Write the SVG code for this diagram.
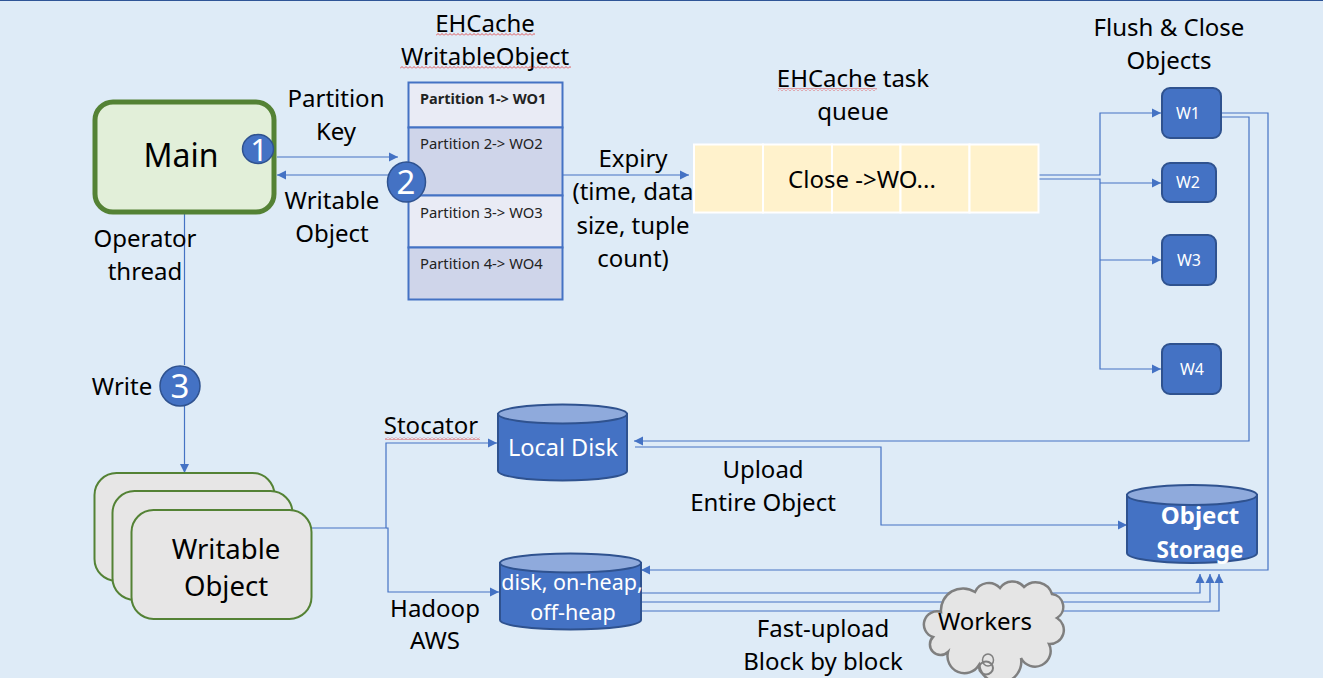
<svg xmlns="http://www.w3.org/2000/svg" width="1323" height="678" viewBox="0 0 1323 678">
<style>
text{font-family:"Noto Sans","Open Sans","Liberation Sans",sans-serif;font-size:24px;fill:#000;text-anchor:middle}
.w{fill:#fff}
.p{font-size:14.8px;text-anchor:start;fill:#222}
.c{fill:none;stroke:#4472c4;stroke-width:1.2}
.blue{fill:#4472c4;stroke:#2f528f;stroke-width:2}
.top{fill:#8faadc;stroke:#2f528f;stroke-width:2}
.num{fill:#4472c4;stroke:#2f528f;stroke-width:1.5}
.stack{fill:#e7e6e6;stroke:#548235;stroke-width:2}
.cell{stroke:#4472c4;stroke-width:2}
.q{fill:#fff2cc;stroke:#fff;stroke-width:2}
</style>
<defs>
<marker id="a" markerUnits="userSpaceOnUse" markerWidth="10" markerHeight="10" refX="9" refY="5" orient="auto"><path d="M0 0.5L9 5L0 9.5Z" fill="#4472c4"/></marker>
<pattern id="sq" width="4" height="3" patternUnits="userSpaceOnUse"><path d="M0 2.5L2 .5L4 2.5" fill="none" stroke="#e03030" stroke-width=".8"/></pattern>
</defs>
<rect width="1323" height="678" fill="#deebf7"/>
<rect width="1323" height="1" fill="#2f5597"/>
<g id="connectors">
<path class="c" d="M277 157H398" marker-end="url(#a)"/>
<path class="c" d="M390 175H277" marker-end="url(#a)"/>
<path class="c" d="M563 175H689" marker-end="url(#a)"/>
<path class="c" d="M184.500 213V365M184.500 405V473" marker-end="url(#a)"/>
<path class="c" d="M1039 175H1100V113H1161" marker-end="url(#a)"/>
<path class="c" d="M1039 179H1100V369H1161" marker-end="url(#a)"/>
<path class="c" d="M1100 183H1161" marker-end="url(#a)"/>
<path class="c" d="M1100 260H1161" marker-end="url(#a)"/>
<path class="c" d="M1221 113H1268V570H641" marker-end="url(#a)"/>
<path class="c" d="M1221 117H1249V441H634" marker-end="url(#a)"/>
<path class="c" d="M635 447H881V525H1127" marker-end="url(#a)"/>
<path class="c" d="M311 528H386V443H497" marker-end="url(#a)"/>
<path class="c" d="M386 528H388V592H499" marker-end="url(#a)"/>
<path class="c" d="M641 593H1200V574" marker-end="url(#a)"/>
<path class="c" d="M641 602H1210V574" marker-end="url(#a)"/>
<path class="c" d="M641 611H1219V574" marker-end="url(#a)"/>
</g>
<g id="main">
<rect x="95" y="102" width="179" height="110" rx="18" fill="#e2efd9" stroke="#548235" stroke-width="5"/>
<text x="181" y="167" style="font-size:32px">Main</text>
<ellipse class="num" cx="258" cy="149" rx="15.500" ry="14.500"/>
<text class="w" x="259" y="161" style="font-size:31px">1</text>
<text x="145" y="247">Operator</text>
<text x="145" y="280">thread</text>
</g>
<g id="label-partition-key">
<text x="336" y="107">Partition</text>
<text x="336" y="140">Key</text>
</g>
<g id="label-writable-object">
<text x="332" y="209">Writable</text>
<text x="332" y="242">Object</text>
</g>
<g id="ehcache-writable-object">
<text x="485" y="32">EHCache</text>
<text x="485" y="65">WritableObject</text>
<rect x="436" y="33" width="99" height="3" fill="url(#sq)"/>
<rect x="400" y="66" width="171" height="3" fill="url(#sq)"/>
<rect class="cell" x="408.500" y="82.500" width="154" height="45" fill="#e9ebf5"/>
<rect class="cell" x="408.500" y="127.500" width="154" height="68" fill="#cfd5ea"/>
<rect class="cell" x="408.500" y="195.500" width="154" height="52" fill="#e9ebf5"/>
<rect class="cell" x="408.500" y="247.500" width="154" height="52" fill="#cfd5ea"/>
<text class="p" x="420" y="104" style="font-weight:700;font-size:14.5px">Partition 1-&gt; WO1</text>
<text class="p" x="420" y="149">Partition 2-&gt; WO2</text>
<text class="p" x="420" y="218">Partition 3-&gt; WO3</text>
<text class="p" x="420" y="269">Partition 4-&gt; WO4</text>
<ellipse class="num" cx="406.500" cy="182" rx="19" ry="20"/>
<text class="w" x="406" y="194" style="font-size:33px">2</text>
</g>
<g id="label-expiry">
<text x="633" y="167">Expiry</text>
<text x="633" y="200">(time, data</text>
<text x="633" y="234">size, tuple</text>
<text x="633" y="267">count)</text>
</g>
<g id="task-queue">
<text x="853" y="87">EHCache task</text>
<text x="853" y="120">queue</text>
<rect x="778" y="88" width="99" height="3" fill="url(#sq)"/>
<rect class="q" x="694" y="144.500" width="69" height="68"/>
<rect class="q" x="763" y="144.500" width="69" height="68"/>
<rect class="q" x="832" y="144.500" width="68.500" height="68"/>
<rect class="q" x="900.500" y="144.500" width="69" height="68"/>
<rect class="q" x="969.500" y="144.500" width="69" height="68"/>
<text x="862" y="188">Close -&gt;WO...</text>
</g>
<g id="label-flush">
<text x="1169" y="36">Flush &amp; Close</text>
<text x="1169" y="69">Objects</text>
</g>
<g id="w1"><rect class="blue" x="1162" y="88" width="59" height="50" rx="8"/><text class="w" x="1188" y="119" style="font-size:16px">W1</text></g>
<g id="w2"><rect class="blue" x="1162" y="163" width="54" height="39" rx="8"/><text class="w" x="1188" y="188" style="font-size:16px">W2</text></g>
<g id="w3"><rect class="blue" x="1162" y="235" width="54" height="50" rx="8"/><text class="w" x="1189" y="266" style="font-size:16px">W3</text></g>
<g id="w4"><rect class="blue" x="1162" y="344" width="59" height="50" rx="8"/><text class="w" x="1192" y="375" style="font-size:16px">W4</text></g>
<g id="write">
<text x="122" y="395">Write</text>
<circle class="num" cx="180" cy="386" r="20"/>
<text class="w" x="180" y="398" style="font-size:33px">3</text>
</g>
<g id="writable-object">
<rect class="stack" x="94.500" y="473" width="180" height="108" rx="22"/>
<rect class="stack" x="112.500" y="491" width="180" height="109" rx="22"/>
<rect class="stack" x="131.500" y="510" width="180" height="109" rx="22"/>
<text x="226" y="559" style="font-size:27.500px">Writable</text>
<text x="226" y="596" style="font-size:27.500px">Object</text>
</g>
<g id="local-disk">
<text x="431" y="434">Stocator</text>
<rect x="385" y="437" width="95" height="3" fill="url(#sq)"/>
<path class="blue" d="M498 414V471A64.500 9.500 0 0 0 627 471V414Z"/>
<ellipse class="top" cx="562.500" cy="414" rx="64.500" ry="9.500"/>
<text class="w" x="563" y="456" style="font-size:23.500px">Local Disk</text>
</g>
<g id="buffer">
<path class="blue" d="M500 563V620A70.500 9.500 0 0 0 641 620V563Z"/>
<ellipse class="top" cx="570.500" cy="563" rx="70.500" ry="9.500"/>
<text class="w" x="572" y="590" style="font-size:21.500px">disk, on-heap,</text>
<text class="w" x="573" y="620" style="font-size:21.500px">off-heap</text>
<text x="435" y="617">Hadoop</text>
<text x="435" y="649">AWS</text>
</g>
<g id="label-upload">
<text x="763" y="478">Upload</text>
<text x="763" y="511">Entire Object</text>
</g>
<g id="object-storage">
<path class="blue" d="M1127 495V553A65 10 0 0 0 1257 553V495Z"/>
<ellipse class="top" cx="1192" cy="495" rx="65" ry="10"/>
<text class="w" x="1200" y="524" style="font-weight:700">Object</text>
<text class="w" x="1200" y="558" style="font-weight:700;font-size:22.500px">Storage</text>
</g>
<g id="workers">
<path d="M941 612A22 22 0 0 1 975 592A15 15 0 0 1 1000 588A15 15 0 0 1 1024 587A17 17 0 0 1 1052 594A13 13 0 0 1 1057 618A14 14 0 0 1 1049 644A13 13 0 0 1 1021 658A17 17 0 0 1 979 665A17 17 0 0 1 948 652A9 9 0 0 1 933 637A12 12 0 0 1 941 612Z" fill="#e5e5e5" stroke="#7f7f7f" stroke-width="2.500"/>
<ellipse cx="988" cy="660" rx="5.500" ry="6" fill="none" stroke="#7f7f7f" stroke-width="1.500"/>
<ellipse cx="986" cy="668" rx="7" ry="6.500" fill="none" stroke="#7f7f7f" stroke-width="2"/>
<text x="985" y="630">Workers</text>
<text x="823" y="637">Fast-upload</text>
<text x="823" y="670">Block by block</text>
</g>
</svg>
